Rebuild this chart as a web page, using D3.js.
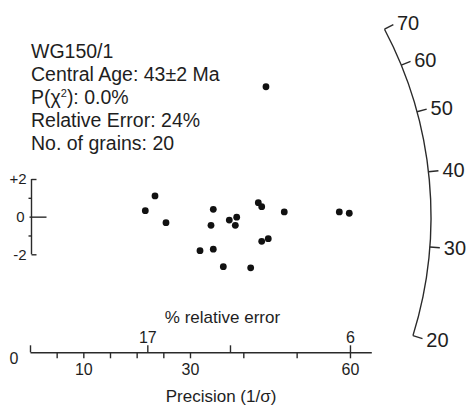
<!DOCTYPE html>
<html>
<head>
<meta charset="utf-8">
<script src="https://cdn.jsdelivr.net/npm/d3@7/dist/d3.min.js"></script>
<style>
  html, body { margin: 0; padding: 0; background: #fff; }
  svg { display: block; font-family: "Liberation Sans", Arial, sans-serif; }
  svg text, .ax text { font-family: "Liberation Sans", Arial, sans-serif; }
  .ax path, .ax line { stroke: #2a2a2a; stroke-width: 1.4; }
  .ax text { fill: #1e1e1e; }
</style>
</head>
<body>
<svg id="chart" width="469" height="412"></svg>
<script>
// Sample summary
const infoLines = ["WG150/1", "Central Age: 43\u00b12 Ma", "P(\u03c7\u00b2): 0.0%", "Relative Error: 24%", "No. of grains: 20"];

// Single-grain results: precision (1/sigma) and standardised estimate
const precision = [44.25, 21.62, 23.44, 25.50, 34.37, 33.94, 37.37, 38.76, 38.50, 42.81,
                   43.45, 47.68, 58.00, 59.87, 43.45, 44.68, 31.88, 34.37, 36.25, 41.38];
const standardised = [6.90, 0.32, 1.10, -0.32, 0.39, -0.46, -0.18, -0.03, -0.46, 0.74,
                      0.53, 0.25, 0.25, 0.18, -1.31, -1.17, -1.81, -1.73, -2.66, -2.72];

// Axis ticks
const precisionTicks = [5, 10, 15, 20, 25, 30, 40, 50, 60];
const precisionLabels = [10, 30, 60];
const relErrTicks = [0, 22, 37.5, 60];
const relErrLabels = ["", "17", "", "6"];
const zTicks = [-2, -1, 0, 1, 2];
const zLabels = ["-2", "", "0", "", "+2"];
const ageTicks = [20, 30, 40, 50, 60, 70];

// Age transform used for the radial scale
const K = 0.0057;
const refAge = 33.8;
const zOf = t => Math.atan(Math.sqrt(K * t));
const z0 = zOf(refAge);

const svg = d3.select("#chart");

const x = d3.scaleLinear().domain([0, 64]).range([30, 371.3]);
const y = d3.scaleLinear().domain([-2, 2]).range([254.3, 179]);
const axisY = 352.3;

// Text block
const info = svg.append("g").attr("fill", "#1e1e1e").style("font-size", "19.5px");
infoLines.forEach((s, i) => {
  const t = info.append("text").attr("x", 31).attr("y", 57.5 + 23 * i);
  if (s.indexOf("\u00b2") >= 0) {
    const [a, b] = s.split("\u00b2");
    t.append("tspan").text(a);
    t.append("tspan").attr("dy", -7).style("font-size", "11px").text("2");
    t.append("tspan").attr("dy", 7).text(b);
  } else {
    t.text(s);
  }
});

// Standardised estimate axis
const yAxis = svg.append("g").attr("class", "ax")
  .attr("transform", `translate(${x(0) + 1.5},0)`)
  .call(d3.axisLeft(y).tickValues(zTicks).tickSize(3).tickSizeOuter(0).tickPadding(4)
    .tickFormat((d, i) => zLabels[i]));
yAxis.select(".domain").remove();
yAxis.append("line").attr("x1", 0).attr("x2", 0).attr("y1", y(2)).attr("y2", y(-2));
yAxis.selectAll(".tick line")
  .attr("x1", d => d === 0 ? -2 : 0)
  .attr("x2", d => Math.abs(d) === 2 ? 5 : d === 0 ? 15 : -3);
yAxis.selectAll(".tick text").style("font-size", "15px")
  .attr("x", d => d === 0 ? -7 : -5);

// Precision axis (below) and relative error axis (above)
const px = svg.append("g").attr("class", "ax")
  .attr("transform", `translate(0,${axisY})`)
  .call(d3.axisBottom(x).tickValues(precisionTicks).tickSize(6).tickSizeOuter(0).tickPadding(5.5)
    .tickFormat(d => precisionLabels.includes(d) ? d : ""));
px.selectAll(".tick text").style("font-size", "16px");

const rx = svg.append("g").attr("class", "ax")
  .attr("transform", `translate(0,${axisY})`)
  .call(d3.axisTop(x).tickValues(relErrTicks).tickSize(7).tickPadding(2.5)
    .tickFormat((d, i) => relErrLabels[i]));
rx.select(".domain").remove();
rx.selectAll(".tick text").style("font-size", "16px");

svg.append("text").attr("x", x(0) - 16).attr("y", 364).attr("text-anchor", "middle")
  .attr("fill", "#1e1e1e").style("font-size", "16px").text("0");

svg.append("text").attr("x", 222.5).attr("y", 323).attr("text-anchor", "middle")
  .attr("fill", "#1e1e1e").style("font-size", "17px").text("% relative error");
svg.append("text").attr("x", 221).attr("y", 402).attr("text-anchor", "middle")
  .attr("fill", "#1e1e1e").style("font-size", "17px").text("Precision (1/\u03c3)");

// Radial age scale
const cx = x(0), cy = y(0), R = 401;
const angleOf = t => {
  const slope = zOf(t) - z0;
  return Math.atan2(y(slope) - y(0), x(1) - x(0));
};
const ages = d3.extent(ageTicks);
const arcPath = d3.path();
arcPath.arc(cx, cy, R, angleOf(ages[1]), angleOf(ages[0]), false);
const arcG = svg.append("g").attr("class", "ax");
arcG.append("path").attr("d", arcPath.toString()).attr("fill", "none");
arcG.selectAll("line.tk").data(ageTicks).join("line")
  .attr("x1", d => cx + R * Math.cos(angleOf(d)))
  .attr("y1", d => cy + R * Math.sin(angleOf(d)))
  .attr("x2", d => cx + (R + 10) * Math.cos(angleOf(d)))
  .attr("y2", d => cy + (R + 10) * Math.sin(angleOf(d)));
arcG.selectAll("text").data(ageTicks).join("text")
  .attr("x", d => cx + (R + 14) * Math.cos(angleOf(d)))
  .attr("y", d => cy + (R + 14) * Math.sin(angleOf(d)))
  .attr("dy", "0.36em")
  .style("font-size", "20px")
  .text(d => d);

// Grains
svg.append("g").selectAll("circle").data(precision).join("circle")
  .attr("cx", d => x(d))
  .attr("cy", (d, i) => y(standardised[i]))
  .attr("r", 3.4)
  .attr("fill", "#111");
</script>
</body>
</html>
